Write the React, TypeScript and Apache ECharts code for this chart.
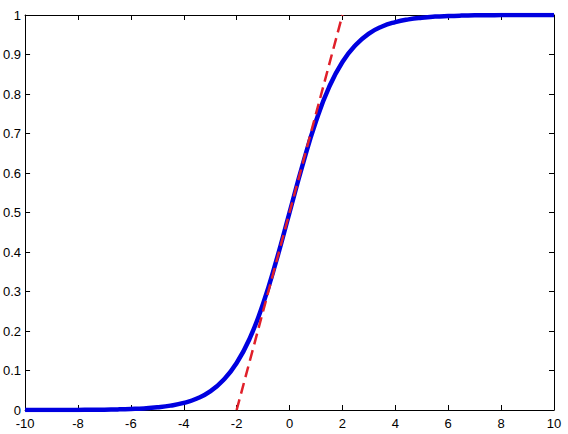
import React, { useEffect, useRef } from "react";
import * as echarts from "echarts";

const curveX = [-10, -9.5, -9, -8.5, -8, -7.5, -7, -6.5, -6, -5.5, -5, -4.5, -4, -3.5, -3, -2.5, -2, -1.5, -1, -0.5, 0, 0.5, 1, 1.5, 2, 2.5, 3, 3.5, 4, 4.5, 5, 5.5, 6, 6.5, 7, 7.5, 8, 8.5, 9, 9.5, 10];
const curveY = [0.0000, 0.0001, 0.0001, 0.0002, 0.0003, 0.0006, 0.0009, 0.0015, 0.0025, 0.004, 0.0067, 0.011, 0.018, 0.029, 0.047, 0.076, 0.119, 0.182, 0.269, 0.378, 0.5, 0.622, 0.731, 0.818, 0.881, 0.924, 0.953, 0.971, 0.982, 0.989, 0.9933, 0.996, 0.9975, 0.9985, 0.9991, 0.9994, 0.9997, 0.9998, 0.9999, 0.9999, 1.0];
const tangentX = [-2, 2];
const tangentY = [0, 1];

export default function App() {
  const ref = useRef<HTMLDivElement>(null);
  useEffect(() => {
    document.body.style.margin = "0";
    const chart = echarts.init(ref.current!, null, { renderer: "svg" });
    const font = { fontFamily: "Liberation Sans, Arial, sans-serif", fontSize: 13, color: "#000" };
    const axisLine = { show: true, lineStyle: { color: "#000", width: 1 } };
    const tick = { show: true, inside: true, length: 5, lineStyle: { color: "#000", width: 1 } };
    chart.setOption({
      animation: false,
      backgroundColor: "#fff",
      grid: { left: 24, right: 14, top: 15, bottom: 24, containLabel: false },
      xAxis: [
        { type: "value", min: -10, max: 10, interval: 2, position: "bottom", axisLine: { ...axisLine, onZero: false }, axisTick: tick, splitLine: { show: false }, axisLabel: { ...font, margin: 7 } },
        { type: "value", min: -10, max: 10, interval: 2, position: "top", axisLine: { ...axisLine, onZero: false }, axisTick: tick, splitLine: { show: false }, axisLabel: { show: false } },
      ],
      yAxis: [
        { type: "value", min: 0, max: 1, interval: 0.1, position: "left", axisLine: { ...axisLine, onZero: false }, axisTick: tick, splitLine: { show: false }, axisLabel: { ...font, margin: 4, formatter: (v: number) => String(Math.round(v * 10) / 10) } },
        { type: "value", min: 0, max: 1, interval: 0.1, position: "right", axisLine: { ...axisLine, onZero: false }, axisTick: tick, splitLine: { show: false }, axisLabel: { show: false } },
      ],
      series: [
        {
          type: "line",
          data: curveX.map((x, i) => [x, curveY[i]]),
          smooth: true,
          showSymbol: false,
          lineStyle: { color: "#0000e0", width: 4.5 },
          z: 2,
        },
        {
          type: "line",
          data: tangentX.map((x, i) => [x, tangentY[i]]),
          showSymbol: false,
          lineStyle: { color: "#e0202a", width: 2.5, type: [11, 6] },
          z: 3,
        },
      ],
    });
    return () => chart.dispose();
  }, []);
  return <div ref={ref} style={{ width: 568, height: 434, position: "absolute", left: 0, top: 0 }} />;
}
